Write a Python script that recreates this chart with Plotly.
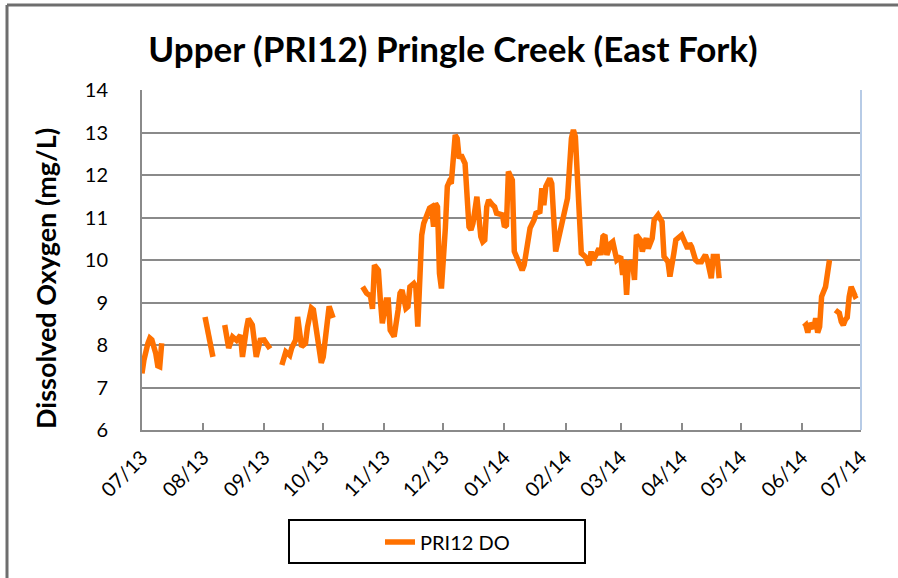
import plotly.graph_objects as go

# ---- data ----
seg1_dates = ["2013-07-01", "2013-07-02", "2013-07-04", "2013-07-05", "2013-07-06",
              "2013-07-08", "2013-07-09", "2013-07-10", "2013-07-11"]
seg1_do = [7.33, 7.65, 8.04, 8.16, 8.12, 7.80, 7.51, 7.49, 8.04]

seg2_dates = ["2013-08-02", "2013-08-04", "2013-08-06"]
seg2_do = [8.66, 8.20, 7.72]

seg3_dates = ["2013-08-12", "2013-08-14", "2013-08-16", "2013-08-18", "2013-08-20",
              "2013-08-21", "2013-08-23", "2013-08-24", "2013-08-26", "2013-08-28",
              "2013-08-30", "2013-09-01", "2013-09-04"]
seg3_do = [8.47, 7.93, 8.19, 8.11, 8.23, 7.72, 8.38, 8.62, 8.47, 7.72, 8.11, 8.12, 7.91]

seg4_dates = ["2013-09-10", "2013-09-11", "2013-09-12", "2013-09-14", "2013-09-15",
              "2013-09-17", "2013-09-18", "2013-09-20", "2013-09-22", "2013-09-23",
              "2013-09-25", "2013-09-26", "2013-09-28", "2013-09-30", "2013-10-01",
              "2013-10-03", "2013-10-04", "2013-10-06"]
seg4_do = [7.53, 7.69, 7.84, 7.76, 7.93, 8.12, 8.66, 7.96, 8.04, 8.42,
           8.87, 8.83, 8.12, 7.58, 7.72, 8.75, 8.91, 8.64]

seg5_dates = [
    "2013-10-21", "2013-10-23", "2013-10-25", "2013-10-26", "2013-10-27", "2013-10-29",
    "2013-10-30", "2013-10-31", "2013-11-02", "2013-11-03", "2013-11-04", "2013-11-06",
    "2013-11-08", "2013-11-09", "2013-11-10", "2013-11-12", "2013-11-13", "2013-11-14",
    "2013-11-16", "2013-11-17", "2013-11-18", "2013-11-20", "2013-11-21", "2013-11-24",
    "2013-11-25", "2013-11-26", "2013-11-27", "2013-11-28", "2013-11-29", "2013-11-30",
    "2013-12-02", "2013-12-03", "2013-12-04", "2013-12-05", "2013-12-07", "2013-12-08",
    "2013-12-09", "2013-12-10", "2013-12-12", "2013-12-13", "2013-12-14", "2013-12-15",
    "2013-12-16", "2013-12-18", "2013-12-19", "2013-12-20", "2013-12-21", "2013-12-22",
    "2013-12-23", "2013-12-24", "2013-12-26", "2013-12-27", "2013-12-28", "2013-12-31",
    "2014-01-01", "2014-01-02", "2014-01-03", "2014-01-05", "2014-01-06", "2014-01-08",
    "2014-01-10", "2014-01-11", "2014-01-13", "2014-01-14", "2014-01-16", "2014-01-17",
    "2014-01-19", "2014-01-20", "2014-01-21", "2014-01-22", "2014-01-24", "2014-01-25",
    "2014-01-27", "2014-01-29", "2014-01-30", "2014-02-01", "2014-02-02", "2014-02-04",
    "2014-02-05", "2014-02-06", "2014-02-09", "2014-02-11", "2014-02-13", "2014-02-14",
    "2014-02-15", "2014-02-16", "2014-02-18", "2014-02-19", "2014-02-20", "2014-02-21",
    "2014-02-22", "2014-02-24", "2014-02-25", "2014-02-27", "2014-03-01", "2014-03-02",
    "2014-03-03", "2014-03-04", "2014-03-05", "2014-03-06", "2014-03-07", "2014-03-08",
    "2014-03-09", "2014-03-11", "2014-03-12", "2014-03-13", "2014-03-14", "2014-03-15",
    "2014-03-17", "2014-03-18", "2014-03-20", "2014-03-22", "2014-03-23", "2014-03-25",
    "2014-03-26", "2014-03-28", "2014-03-29", "2014-04-01", "2014-04-03", "2014-04-04",
    "2014-04-05", "2014-04-06", "2014-04-08", "2014-04-09", "2014-04-11", "2014-04-13",
    "2014-04-14", "2014-04-16", "2014-04-17", "2014-04-18", "2014-04-19", "2014-04-20",
]
seg5_do = [
    9.37, 9.22, 9.15, 8.85, 9.88, 9.76,
    9.06, 8.51, 9.06, 9.06, 8.35, 8.20,
    8.82, 9.22, 9.29, 8.86, 8.90, 9.37,
    9.45, 9.37, 8.43, 10.59, 10.86, 11.22,
    11.25, 10.78, 11.33, 11.25, 9.69, 9.33,
    10.75, 11.73, 11.84, 11.80, 12.94, 12.86,
    12.39, 12.47, 12.27, 11.22, 10.78, 10.71,
    10.86, 11.49, 10.94, 10.55, 10.43, 10.47,
    11.25, 11.41, 11.29, 11.25, 11.10, 11.06,
    10.78, 10.82, 12.08, 11.88, 10.20, 10.00,
    9.76, 9.88, 10.63, 10.75, 10.94, 11.10,
    11.14, 11.69, 11.29, 11.73, 11.92, 11.80,
    10.20, 10.59, 10.86, 11.14, 11.45, 12.86,
    13.06, 12.90, 10.16, 10.08, 9.88, 10.20,
    10.00, 10.08, 10.27, 10.12, 10.55, 10.59,
    10.12, 10.39, 10.43, 10.00, 10.08, 9.65,
    10.00, 9.18, 9.96, 9.92, 9.96, 9.53,
    10.59, 10.47, 10.20, 10.39, 10.51, 10.27,
    10.51, 10.94, 11.06, 10.90, 10.08, 9.96,
    9.61, 10.16, 10.47, 10.59, 10.35, 10.27,
    10.39, 10.31, 10.00, 9.96, 9.96, 10.12,
    10.00, 9.57, 10.08, 10.08, 10.08, 9.57,
]

seg6_dates = ["2014-06-02", "2014-06-03", "2014-06-04", "2014-06-05", "2014-06-07",
              "2014-06-08", "2014-06-09", "2014-06-10", "2014-06-11", "2014-06-13",
              "2014-06-15"]
seg6_do = [8.43, 8.47, 8.29, 8.51, 8.39, 8.63, 8.29, 8.43, 9.14, 9.37, 10.00]

seg7_dates = ["2014-06-18", "2014-06-20", "2014-06-21", "2014-06-22", "2014-06-23",
              "2014-06-24", "2014-06-25", "2014-06-26", "2014-06-28", "2014-06-29"]
seg7_do = [8.82, 8.75, 8.55, 8.47, 8.59, 8.65, 9.14, 9.37, 9.15, 9.18]

tick_dates = ["2013-07-01", "2013-08-01", "2013-09-01", "2013-10-01", "2013-11-01",
              "2013-12-01", "2014-01-01", "2014-02-01", "2014-03-01", "2014-04-01",
              "2014-05-01", "2014-06-01", "2014-07-01"]
tick_labels = ["07/13", "08/13", "09/13", "10/13", "11/13", "12/13", "01/14",
               "02/14", "03/14", "04/14", "05/14", "06/14", "07/14"]

series_name = "PRI12 DO"
title_text = "Upper (PRI12) Pringle Creek (East Fork)"
y_title = "Dissolved Oxygen (mg/L)"

# ---- join segments with gaps ----
segments = [(seg1_dates, seg1_do), (seg2_dates, seg2_do), (seg3_dates, seg3_do),
            (seg4_dates, seg4_do), (seg5_dates, seg5_do), (seg6_dates, seg6_do),
            (seg7_dates, seg7_do)]
xs, ys = [], []
for i, (d, v) in enumerate(segments):
    if i > 0:
        xs.append(d[0])
        ys.append(None)
    xs.extend(d)
    ys.extend(v)

FONT = "Lato, 'Open Sans', sans-serif"
ORANGE = "#ff7100"

W, H = 898, 578
L, R, T, B = 142, 37, 90, 148
PW, PH = W - L - R, H - T - B


def px_x(x):
    return (x - L) / PW


def px_y(y):
    return (H - B - y) / PH


fig = go.Figure()
fig.add_trace(go.Scatter(
    x=xs, y=ys, mode="lines", name=series_name, connectgaps=False,
    line=dict(color=ORANGE, width=5.5),
))

fig.update_layout(
    width=W, height=H,
    margin=dict(l=L, r=R, t=T, b=B),
    paper_bgcolor="white", plot_bgcolor="white",
    font=dict(family=FONT, color="black"),
    title=dict(text="<b>" + title_text + "</b>", x=453 / W, xref="container",
               xanchor="center", y=1 - 50 / H, yref="container", yanchor="middle",
               font=dict(size=35, family=FONT, color="black")),
    showlegend=True,
    legend=dict(orientation="h", x=px_x(380), xanchor="left", y=px_y(542),
                yanchor="middle", bgcolor="rgba(0,0,0,0)", borderwidth=0,
                font=dict(size=20, family=FONT, color="black")),
    xaxis=dict(
        type="date", range=["2013-07-01", "2014-07-01"],
        tickmode="array", tickvals=tick_dates, ticktext=tick_labels,
        tickangle=-45, tickfont=dict(size=20, family=FONT, color="black"),
        ticks="inside", ticklen=7, tickwidth=2, tickcolor="#8a8a8a",
        ticklabelstandoff=6,
        showline=True, linecolor="#8a8a8a", linewidth=2,
        showgrid=False, zeroline=False,
    ),
    yaxis=dict(
        range=[6, 14], tickmode="linear", tick0=6, dtick=1,
        tickfont=dict(size=20, family=FONT, color="black"),
        ticks="", ticklabelstandoff=28,
        showline=True, linecolor="#8a8a8a", linewidth=2,
        showgrid=True, gridcolor="#8a8a8a", gridwidth=1.6, zeroline=False,
    ),
    annotations=[dict(
        text="<b>" + y_title + "</b>", xref="paper", yref="paper",
        x=px_x(45), y=px_y(279), textangle=-90, showarrow=False,
        xanchor="center", yanchor="middle",
        font=dict(size=27, family=FONT, color="black"),
    )],
    shapes=[
        # right plot-area border (light blue)
        dict(type="line", xref="paper", yref="paper", x0=1, x1=1, y0=0, y1=1,
             line=dict(color="#b7cbe6", width=2)),
        # legend box
        dict(type="rect", xref="paper", yref="paper",
             x0=px_x(289), x1=px_x(585), y0=px_y(520), y1=px_y(563),
             line=dict(color="black", width=2), fillcolor="rgba(0,0,0,0)"),
        # chart outer border (top and left)
        dict(type="line", xref="paper", yref="paper",
             x0=px_x(7), x1=px_x(898), y0=px_y(5), y1=px_y(5),
             line=dict(color="#6e6e6e", width=3)),
        dict(type="line", xref="paper", yref="paper",
             x0=px_x(7), x1=px_x(7), y0=px_y(5), y1=px_y(578),
             line=dict(color="#6e6e6e", width=3)),
    ],
)

fig.write_html("out.html", config={"displayModeBar": False},
               post_script="document.body.style.margin='0';document.body.style.overflow='hidden';")
